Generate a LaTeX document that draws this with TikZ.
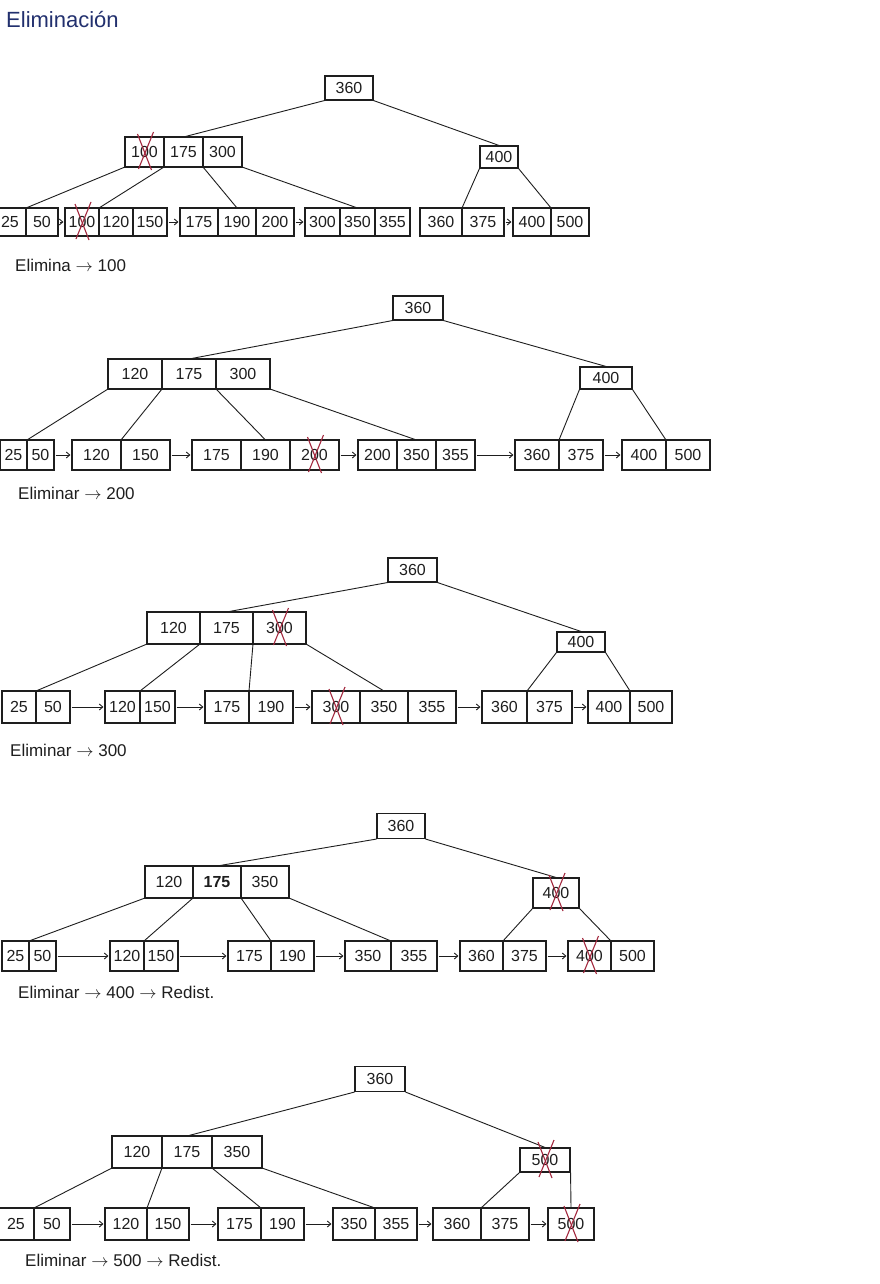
\documentclass[tikz,border=0pt]{standalone}
\usepackage{fontspec}
\setmainfont{Liberation Sans}
\usetikzlibrary{fit,arrows.meta}
\definecolor{inkc}{HTML}{1E1E1E}
\definecolor{xred}{HTML}{A3283E}
\definecolor{titleblue}{HTML}{22306E}
\newcommand\keyfont{\fontsize{16}{18}\selectfont}
\newcommand\lblfont{\fontsize{17}{19}\selectfont}
\newcommand\bnode[6]{%
  \foreach \k [count=\i] in {#6} {%
    \ifnum\i=1\relax
      \node[key, minimum width=#4, minimum height=#5, anchor=west] (#1-\i) at (#2,#3) {\k};%
    \else
      \pgfmathtruncatemacro\j{\i-1}%
      \node[key, minimum width=#4, minimum height=#5, anchor=west] (#1-\i) at (#1-\j.east) {\k};%
      \draw[boxline] (#1-\i.north west) -- (#1-\i.south west);%
    \fi
    \xdef\lastkey{\i}%
  }%
  \node[fit=(#1-1)(#1-\lastkey), inner sep=0pt, boxline, draw] (#1) {};%
}
\newcommand\xmark[1]{%
  \draw[redx] ([shift={(-7,-18)}]#1.center) -- ([shift={(7,18)}]#1.center);%
  \draw[redx] ([shift={(9,-20)}]#1.center) -- ([shift={(-6,17)}]#1.center);%
}
\begin{document}
\begin{tikzpicture}[x=1pt,y=-1pt,
  boxline/.style={draw=inkc, line width=1.1pt},
  key/.style={inner sep=0pt, outer sep=0pt, font=\keyfont, text=inkc},
  edge/.style={draw=inkc, line width=0.9pt},
  larrow/.style={draw=inkc, line width=0.9pt, -{Straight Barb[length=3.5pt,width=6pt]}, shorten <=1pt, shorten >=1pt},
  redx/.style={draw=xred, line width=1.1pt},
  lbl/.style={font=\lblfont, text=inkc, anchor=west, inner sep=0pt}]
\fill[white] (0,0) rectangle (880,1284);
\useasboundingbox (0,0) rectangle (880,1284);

\node[anchor=west, inner sep=0pt, font=\fontsize{22}{24}\selectfont, text=titleblue] (title) at (6,20) {Eliminación};

% ---------------- Tree 1
\bnode{ar}{325}{88}{48}{24}{360}
\bnode{ai}{125}{152}{39}{30}{100,175,300}
\bnode{an}{480}{157}{38}{22}{400}
\bnode{al1}{-6}{222}{32}{28}{25,50}
\bnode{al2}{65}{222}{34}{28}{100,120,150}
\bnode{al3}{180}{222}{38}{28}{175,190,200}
\bnode{al4}{305}{222}{35}{28}{300,350,355}
\bnode{al5}{420}{222}{42}{28}{360,375}
\bnode{al6}{513}{222}{38}{28}{400,500}
\draw[edge] (ar.south west) -- (ai-2.north);
\draw[edge] (ar.south east) -- (an.north);
\draw[edge] (ai-1.south west) -- (al1-1.north east);
\draw[edge] (ai-1.south east) -- (al2-1.north east);
\draw[edge] (ai-2.south east) -- (al3-2.north);
\draw[edge] (ai-3.south east) -- (al4-2.north);
\draw[edge] (an.south west) -- (al5-1.north east);
\draw[edge] (an.south east) -- (al6-1.north east);
\draw[larrow] (al1) -- (al2);
\draw[larrow] (al2) -- (al3);
\draw[larrow] (al3) -- (al4);
\draw[larrow] (al5) -- (al6);
\xmark{ai-1}
\xmark{al2-1}
\node[lbl] (lab1) at (15,265) {Elimina $\rightarrow$ 100};

% ---------------- Tree 2
\bnode{br}{393}{308}{50}{24}{360}
\bnode{bi}{108}{374}{54}{30}{120,175,300}
\bnode{bn}{580}{378}{52}{22}{400}
\bnode{bl1}{0}{455}{27}{30}{25,50}
\bnode{bl2}{72}{455}{49}{30}{120,150}
\bnode{bl3}{192}{455}{49}{30}{175,190,200}
\bnode{bl4}{358}{455}{39}{30}{200,350,355}
\bnode{bl5}{515}{455}{44}{30}{360,375}
\bnode{bl6}{622}{455}{44}{30}{400,500}
\draw[edge] (br.south west) -- (bi-2.north);
\draw[edge] (br.south east) -- (bn.north);
\draw[edge] (bi-1.south west) -- (bl1-1.north east);
\draw[edge] (bi-1.south east) -- (bl2-1.north east);
\draw[edge] (bi-2.south east) -- (bl3-2.north);
\draw[edge] (bi-3.south east) -- (bl4-2.north);
\draw[edge] (bn.south west) -- (bl5-1.north east);
\draw[edge] (bn.south east) -- (bl6-1.north east);
\draw[larrow] (bl1) -- (bl2);
\draw[larrow] (bl2) -- (bl3);
\draw[larrow] (bl3) -- (bl4);
\draw[larrow] (bl4) -- (bl5);
\draw[larrow] (bl5) -- (bl6);
\xmark{bl3-3}
\node[lbl] (lab2) at (18,493) {Eliminar $\rightarrow$ 200};

% ---------------- Tree 3
\bnode{cr}{388}{570}{49}{24}{360}
\bnode{ci}{147}{628}{53}{32}{120,175,300}
\bnode{cn}{557}{642}{48}{20}{400}
\bnode{cl1}{2}{707}{34}{32}{25,50}
\bnode{cl2}{105}{707}{35}{32}{120,150}
\bnode{cl3}{205}{707}{44}{32}{175,190}
\bnode{cl4}{312}{707}{48}{32}{300,350,355}
\bnode{cl5}{482}{707}{45}{32}{360,375}
\bnode{cl6}{588}{707}{42}{32}{400,500}
\draw[edge] (cr.south west) -- (ci-2.north);
\draw[edge] (cr.south east) -- (cn.north);
\draw[edge] (ci-1.south west) -- (cl1-1.north east);
\draw[edge] (ci-1.south east) -- (cl2-1.north east);
\draw[edge] (ci-2.south east) -- (cl3-1.north east);
\draw[edge] (ci-3.south east) -- (cl4-2.north);
\draw[edge] (cn.south west) -- (cl5-1.north east);
\draw[edge] (cn.south east) -- (cl6-1.north east);
\draw[larrow] (cl1) -- (cl2);
\draw[larrow] (cl2) -- (cl3);
\draw[larrow] (cl3) -- (cl4);
\draw[larrow] (cl4) -- (cl5);
\draw[larrow] (cl5) -- (cl6);
\xmark{ci-3}
\xmark{cl4-1}
\node[lbl] (lab3) at (10,750) {Eliminar $\rightarrow$ 300};

% ---------------- Tree 4
\bnode{dr}{377}{826}{48}{25}{360}
\bnode{di}{145}{882}{48}{32}{120,\textbf{175},350}
\bnode{dn}{533}{893}{46}{30}{400}
\bnode{dl1}{2}{956}{27}{30}{25,50}
\bnode{dl2}{110}{956}{34}{30}{120,150}
\bnode{dl3}{228}{956}{43}{30}{175,190}
\bnode{dl4}{345}{956}{46}{30}{350,355}
\bnode{dl5}{460}{956}{43}{30}{360,375}
\bnode{dl6}{568}{956}{43}{30}{400,500}
\draw[edge] (dr.south west) -- (di-2.north);
\draw[edge] (dr.south east) -- (dn.north);
\draw[edge] (di-1.south west) -- (dl1-1.north east);
\draw[edge] (di-1.south east) -- (dl2-1.north east);
\draw[edge] (di-2.south east) -- (dl3-1.north east);
\draw[edge] (di-3.south east) -- (dl4-1.north east);
\draw[edge] (dn.south west) -- (dl5-1.north east);
\draw[edge] (dn.south east) -- (dl6-1.north east);
\draw[larrow] (dl1) -- (dl2);
\draw[larrow] (dl2) -- (dl3);
\draw[larrow] (dl3) -- (dl4);
\draw[larrow] (dl4) -- (dl5);
\draw[larrow] (dl5) -- (dl6);
\xmark{dn-1}
\xmark{dl6-1}
\node[lbl] (lab4) at (18,992) {Eliminar $\rightarrow$ 400 $\rightarrow$ Redist.};

% ---------------- Tree 5
\bnode{er}{355}{1079}{50}{25}{360}
\bnode{ei}{112}{1152}{50}{32}{120,175,350}
\bnode{en}{520}{1160}{50}{24}{500}
\bnode{el1}{-2}{1224}{36}{32}{25,50}
\bnode{el2}{105}{1224}{42}{32}{120,150}
\bnode{el3}{218}{1224}{43}{32}{175,190}
\bnode{el4}{333}{1224}{42}{32}{350,355}
\bnode{el5}{433}{1224}{48}{32}{360,375}
\bnode{el6}{548}{1224}{46}{32}{500}
\draw[edge] (er.south west) -- (ei-2.north);
\draw[edge] (er.south east) -- (en.north);
\draw[edge] (ei-1.south west) -- (el1-1.north east);
\draw[edge] (ei-1.south east) -- (el2-1.north east);
\draw[edge] (ei-2.south east) -- (el3-1.north east);
\draw[edge] (ei-3.south east) -- (el4-1.north east);
\draw[edge] (en.south west) -- (el5-1.north east);
\draw[edge] (en.south east) -- (el6.north);
\draw[larrow] (el1) -- (el2);
\draw[larrow] (el2) -- (el3);
\draw[larrow] (el3) -- (el4);
\draw[larrow] (el4) -- (el5);
\draw[larrow] (el5) -- (el6);
\xmark{en-1}
\xmark{el6-1}
\node[lbl] (lab5) at (25,1260) {Eliminar $\rightarrow$ 500 $\rightarrow$ Redist.};
\end{tikzpicture}
\end{document}
